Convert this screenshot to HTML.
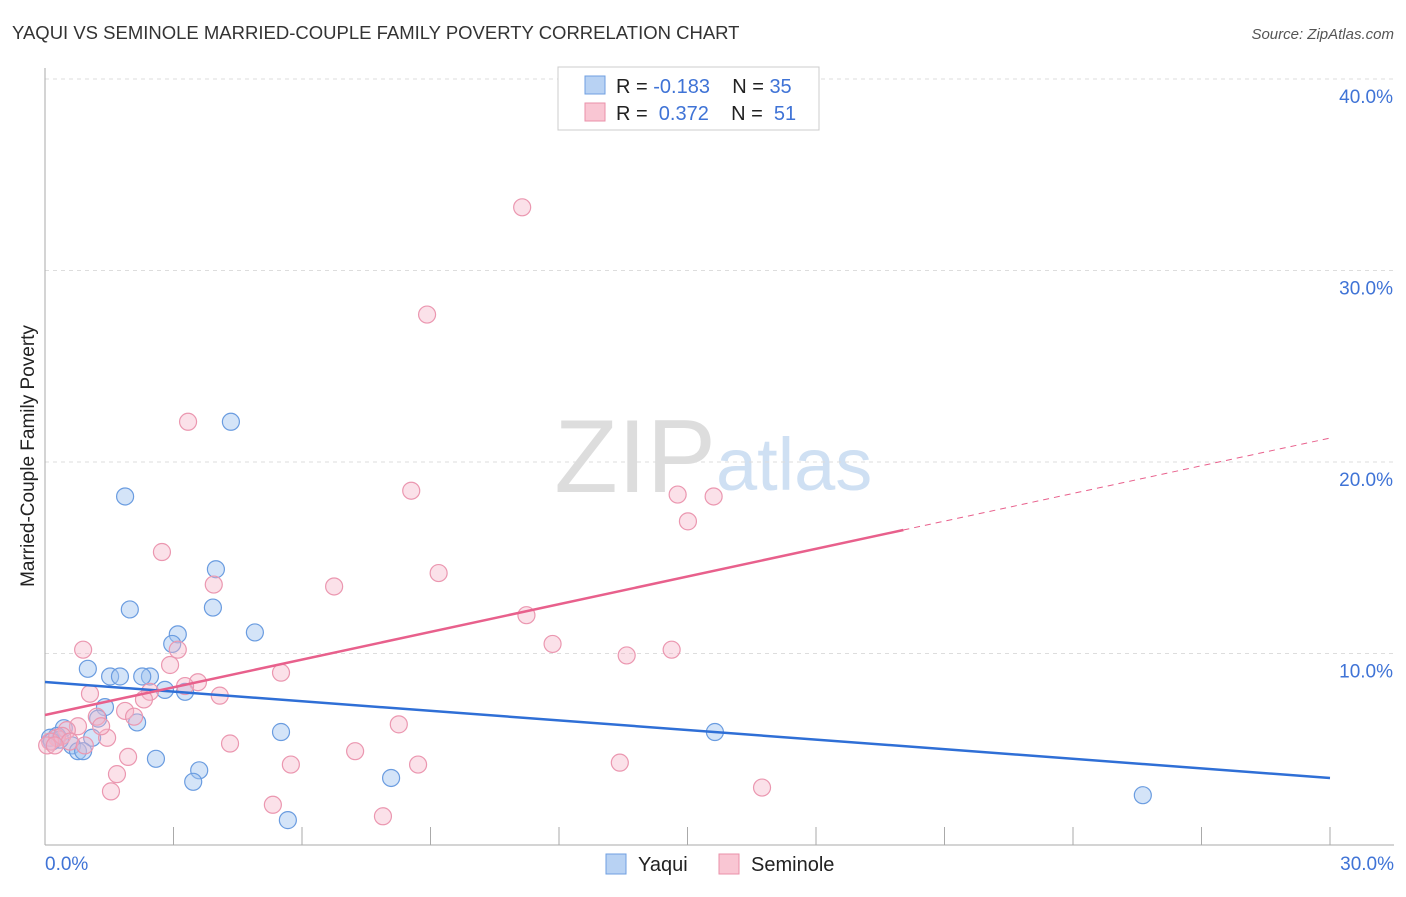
<!DOCTYPE html>
<html><head><meta charset="utf-8"><style>
body{margin:0;background:#fff;font-family:"Liberation Sans",sans-serif;}
svg text{font-family:"Liberation Sans",sans-serif;}
</style></head><body>
<svg id="c" width="1406" height="892" xmlns="http://www.w3.org/2000/svg">
<text x="12" y="39" font-size="18.5" fill="#333">YAQUI VS SEMINOLE MARRIED-COUPLE FAMILY POVERTY CORRELATION CHART</text>
<text x="1394" y="39" font-size="15" fill="#555" font-style="italic" text-anchor="end">Source: ZipAtlas.com</text>
<text x="716" y="492" font-size="104" fill="#ddd" font-family="Liberation Serif" text-anchor="end">ZIP</text>
<text x="716" y="490" font-size="74" fill="#cfe0f3">atlas</text>
<text transform="translate(34,456) rotate(-90)" font-size="19" fill="#222" text-anchor="middle">Married-Couple Family Poverty</text>
<g id="grid"></g><g id="marks"></g>
<g>
<rect x="558" y="67" width="261" height="63" fill="#fff" stroke="#ccc"/>
<rect x="585" y="76" width="20" height="18" fill="#b8d2f3" stroke="#6f9fe0"/>
<rect x="585" y="103" width="20" height="18" fill="#f9c6d3" stroke="#ea90aa"/>
<text x="616" y="93" font-size="20" fill="#222" xml:space="preserve">R = <tspan fill="#3f73d6">-0.183</tspan>    N = <tspan fill="#3f73d6">35</tspan></text>
<text x="616" y="120" font-size="20" fill="#222" xml:space="preserve">R =  <tspan fill="#3f73d6">0.372</tspan>    N =  <tspan fill="#3f73d6">51</tspan></text>
</g>
<g>
<rect x="606" y="854" width="20" height="20" fill="#b8d2f3" stroke="#6f9fe0"/>
<text x="638" y="871" font-size="20" fill="#222">Yaqui</text>
<rect x="719" y="854" width="20" height="20" fill="#f9c6d3" stroke="#ea90aa"/>
<text x="751" y="871" font-size="20" fill="#222">Seminole</text>
</g>
</svg>
<script>
const yTicks=[10,20,30,40];
const xTickLabels=["0.0%","30.0%"];
const yaquiX=[1.87,4.34,3.99,1.98,3.92,3.1,2.97,4.9,1.0,1.52,1.75,2.45,2.27,2.8,3.27,1.4,1.24,2.15,1.1,0.44,0.28,0.12,0.63,0.77,0.89,2.59,3.6,3.46,5.51,8.08,5.67,15.64,25.63,0.35,0.16];
const yaquiY=[18.2,22.1,14.4,12.3,12.4,11.0,10.5,11.1,9.2,8.8,8.8,8.8,8.8,8.1,8.0,7.2,6.6,6.4,5.6,6.1,5.7,5.6,5.2,4.9,4.9,4.5,3.9,3.3,5.9,3.5,1.3,5.9,2.6,5.5,5.4];
const semX=[11.14,8.92,3.34,8.55,14.77,15.61,15.01,2.73,9.19,3.94,6.75,11.24,11.85,0.89,13.58,14.63,3.1,2.92,5.51,2.45,1.05,3.57,3.27,2.31,1.87,1.21,2.08,4.08,1.45,0.77,0.51,1.31,4.32,1.94,7.24,8.26,1.68,1.54,5.74,8.71,13.42,16.74,5.32,7.89,0.28,0.12,0.4,0.05,0.58,0.93,0.23];
const semY=[33.3,27.7,22.1,18.5,18.3,18.2,16.9,15.3,14.2,13.6,13.5,12.0,10.5,10.2,9.9,10.2,10.2,9.4,9.0,8.0,7.9,8.5,8.3,7.6,7.0,6.7,6.7,7.8,5.6,6.2,6.0,6.2,5.3,4.6,4.9,6.3,3.7,2.8,4.2,4.2,4.3,3.0,2.1,1.5,5.6,5.4,5.7,5.2,5.4,5.2,5.2];
const blueLine=[8.51,3.5];
const pinkLine=[6.79,21.25];
const pinkSolidEnd=20.04;
const X=v=>45+v/30*1285, Y=v=>845-v*19.15;
const NS="http://www.w3.org/2000/svg";
function mk(tag,attrs,parent){const e=document.createElementNS(NS,tag);for(const k in attrs)e.setAttribute(k,attrs[k]);parent.appendChild(e);return e;}
const g=document.getElementById('grid'),m=document.getElementById('marks');
yTicks.forEach(t=>{
 const l=mk('line',{x1:45,x2:1394,y1:Y(t),y2:Y(t),stroke:'#ddd','stroke-dasharray':'4,4'},g);
 
 
 const tx=mk('text',{x:1393,y:Y(t)+24,'font-size':19,fill:'#3f73d6','text-anchor':'end'},g);
 tx.textContent=t.toFixed(1)+'%';
 
 
});
const ax=mk('line',{x1:45,x2:45,y1:68,y2:845,stroke:'#aaa'},g);


const bx=mk('line',{x1:45,x2:1394,y1:845,y2:845,stroke:'#aaa'},g);


for(let i=0;i<=10;i++){const t=mk('line',{x1:X(i*3),x2:X(i*3),y1:827,y2:845,stroke:'#aaa'},g);
 
 }
[[0,'start',45],[30,'end',1394]].forEach((d,i)=>{const t=mk('text',{x:d[2],y:870,'font-size':19,fill:'#3f73d6','text-anchor':d[1]},g);t.textContent=xTickLabels[i];
 
 });
yaquiX.forEach((x,i)=>{const c=mk('circle',{cx:X(x),cy:Y(yaquiY[i]),r:8.5,fill:'rgba(160,196,240,0.45)',stroke:'#6a9ce0','stroke-width':1.2},m);
 
 });
semX.forEach((x,i)=>{const c=mk('circle',{cx:X(x),cy:Y(semY[i]),r:8.5,fill:'rgba(246,180,200,0.4)',stroke:'#eb97b0','stroke-width':1.2},m);
 
 });
const bl=mk('line',{x1:X(0),y1:Y(blueLine[0]),x2:X(30),y2:Y(blueLine[1]),stroke:'#2f6fd6','stroke-width':2.5},m);


const py=x=>pinkLine[0]+(pinkLine[1]-pinkLine[0])*x/30;
const pl=mk('line',{x1:X(0),y1:Y(py(0)),x2:X(pinkSolidEnd),y2:Y(py(pinkSolidEnd)),stroke:'#e8608c','stroke-width':2.5},m);


const pd=mk('line',{x1:X(pinkSolidEnd),y1:Y(py(pinkSolidEnd)),x2:X(30),y2:Y(py(30)),stroke:'#e8608c','stroke-width':1,'stroke-dasharray':'6,5'},m);


</script>
</body></html>
